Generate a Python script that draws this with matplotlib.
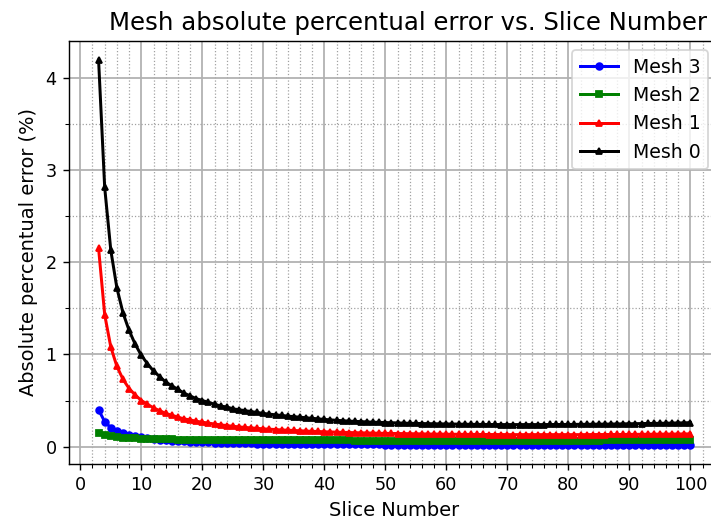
import matplotlib
matplotlib.use("Agg")
import matplotlib.pyplot as plt
from matplotlib.ticker import MultipleLocator

slices = list(range(3, 101))

mesh0 = [4.19, 2.81, 2.13, 1.72, 1.45, 1.26, 1.11, 0.99,
         0.90, 0.82, 0.76, 0.70, 0.66, 0.62, 0.58, 0.55, 0.52, 0.50,
         0.48, 0.46, 0.44, 0.43, 0.41, 0.40, 0.39, 0.38, 0.37, 0.36,
         0.352, 0.345, 0.338, 0.331, 0.325, 0.319, 0.313, 0.307, 0.301, 0.295,
         0.290, 0.285, 0.281, 0.277, 0.274, 0.271, 0.268, 0.265, 0.263, 0.261,
         0.259, 0.257, 0.255, 0.253, 0.252, 0.250, 0.249, 0.248, 0.247, 0.246,
         0.245, 0.244, 0.243, 0.242, 0.241, 0.241, 0.240, 0.240, 0.239, 0.239,
         0.239, 0.239, 0.239, 0.239, 0.239, 0.239, 0.240, 0.240, 0.240, 0.241,
         0.241, 0.242, 0.242, 0.243, 0.244, 0.244, 0.245, 0.246, 0.247, 0.248,
         0.249, 0.250, 0.251, 0.252, 0.253, 0.254, 0.256, 0.257, 0.258, 0.260]

mesh1 = [2.15, 1.43, 1.08, 0.87, 0.73, 0.63, 0.56, 0.50,
         0.46, 0.42, 0.39, 0.36, 0.34, 0.32, 0.30, 0.29, 0.275, 0.265,
         0.255, 0.245, 0.236, 0.228, 0.221, 0.214, 0.208, 0.203, 0.198, 0.193,
         0.189, 0.185, 0.181, 0.178, 0.175, 0.172, 0.169, 0.166, 0.164, 0.161,
         0.159, 0.157, 0.155, 0.153, 0.151, 0.150, 0.148, 0.147, 0.145, 0.144,
         0.143, 0.142, 0.141, 0.140, 0.139, 0.138, 0.137, 0.136, 0.136, 0.135,
         0.134, 0.134, 0.133, 0.133, 0.132, 0.132, 0.131, 0.131, 0.131, 0.130,
         0.130, 0.130, 0.130, 0.130, 0.130, 0.130, 0.130, 0.130, 0.130, 0.130,
         0.130, 0.130, 0.130, 0.131, 0.131, 0.131, 0.132, 0.132, 0.132, 0.133,
         0.133, 0.134, 0.134, 0.135, 0.135, 0.136, 0.136, 0.137, 0.138, 0.138]

mesh2 = [0.150, 0.125, 0.112, 0.103, 0.097, 0.093, 0.089, 0.086,
         0.084, 0.082, 0.080, 0.079, 0.078, 0.077, 0.076, 0.075, 0.074, 0.073,
         0.073, 0.072, 0.072, 0.071, 0.071, 0.070, 0.070, 0.070, 0.069, 0.069,
         0.069, 0.069, 0.068, 0.068, 0.068, 0.068, 0.068, 0.067, 0.067, 0.067,
         0.067, 0.067, 0.067, 0.067, 0.066, 0.066, 0.066, 0.066, 0.066, 0.066,
         0.066, 0.066, 0.066, 0.066, 0.066, 0.066, 0.066, 0.066, 0.066, 0.066,
         0.066, 0.066, 0.066, 0.066, 0.066, 0.066, 0.066, 0.066, 0.066, 0.066,
         0.066, 0.066, 0.066, 0.066, 0.066, 0.066, 0.066, 0.066, 0.066, 0.066,
         0.066, 0.066, 0.066, 0.066, 0.066, 0.067, 0.067, 0.067, 0.067, 0.067,
         0.067, 0.067, 0.067, 0.067, 0.068, 0.068, 0.068, 0.068, 0.068, 0.068]

mesh3 = [0.40, 0.27, 0.205, 0.17, 0.145, 0.128, 0.114, 0.100,
         0.092, 0.084, 0.077, 0.071, 0.066, 0.061, 0.057, 0.054, 0.050, 0.047,
         0.045, 0.043, 0.041, 0.039, 0.037, 0.036, 0.035, 0.034, 0.033, 0.032,
         0.031, 0.030, 0.029, 0.029, 0.028, 0.027, 0.027, 0.026, 0.026, 0.025,
         0.025, 0.025, 0.024, 0.024, 0.024, 0.023, 0.023, 0.023, 0.023, 0.022,
         0.022, 0.022, 0.022, 0.022, 0.022, 0.021, 0.021, 0.021, 0.021, 0.021,
         0.021, 0.021, 0.021, 0.021, 0.020, 0.020, 0.020, 0.020, 0.020, 0.020,
         0.020, 0.020, 0.020, 0.020, 0.020, 0.020, 0.020, 0.020, 0.020, 0.020,
         0.020, 0.020, 0.020, 0.020, 0.020, 0.020, 0.020, 0.020, 0.020, 0.020,
         0.020, 0.020, 0.020, 0.020, 0.020, 0.020, 0.020, 0.020, 0.020, 0.020]

series = [("Mesh 3", mesh3, "blue", "o"),
          ("Mesh 2", mesh2, "green", "s"),
          ("Mesh 1", mesh1, "red", "^"),
          ("Mesh 0", mesh0, "black", "^")]

DPI = 127
W, H = 711, 525
fig = plt.figure(figsize=(W / DPI, H / DPI), dpi=DPI)
ax = fig.add_axes([69 / W, 61 / H, 651 / W, 423 / H])

for name, vals, col, mk in series:
    ax.plot(slices, vals, color=col, marker=mk, markersize=3.8, linewidth=1.7, label=name)

ax.xaxis.set_major_locator(MultipleLocator(10))
ax.xaxis.set_minor_locator(MultipleLocator(2))
ax.yaxis.set_major_locator(MultipleLocator(1))
ax.yaxis.set_minor_locator(MultipleLocator(0.5))
ax.tick_params(labelsize=10)
ax.grid(which="major", color="#b0b0b0", linewidth=1.0)
ax.grid(which="minor", color="#a0a0a0", linestyle=":", linewidth=0.7)
ax.set_axisbelow(True)

ax.set_xlabel("Slice Number", fontsize=11)
ax.set_ylabel("Absolute percentual error (%)", fontsize=11)
ax.set_title("Mesh absolute percentual error vs. Slice Number", fontsize=13.8,
             x=(408 - 69) / 651)
ax.legend(loc="upper right", bbox_to_anchor=(708 / W, 1 - 50 / H),
          bbox_transform=fig.transFigure, borderaxespad=0, fontsize=10.7)

fig.savefig("out.png", dpi=DPI)
